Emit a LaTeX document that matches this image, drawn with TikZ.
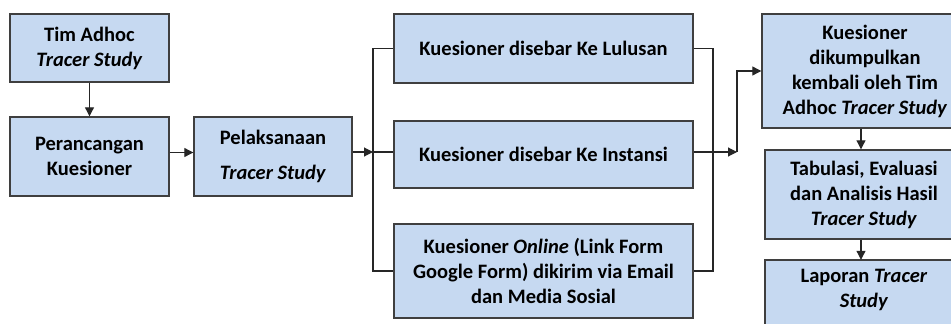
\documentclass[tikz,border=0pt]{standalone}
\usepackage{fontspec}
\setmainfont{Carlito}
\usetikzlibrary{arrows.meta}
\definecolor{boxfill}{HTML}{C6D9F1}
\definecolor{boxline}{HTML}{3F3F3F}
\definecolor{lncol}{HTML}{262626}
\begin{document}
\begin{tikzpicture}[x=1pt,y=-1pt,
  box/.style={draw=boxline, fill=boxfill, line width=1.4pt, inner sep=0pt, align=center,
    font=\fontsize{20.5}{25}\selectfont\bfseries},
  txt/.style={inner sep=0pt, align=center, font=\fontsize{20.5}{25}\selectfont\bfseries},
  ln/.style={line width=1.1pt, draw=lncol},
  arr/.style={ln, -{Triangle[length=9pt,width=9pt]}}]
\useasboundingbox (0,0) rectangle (951,324);
\clip (0,0) rectangle (951,324);
\fill[white] (0,0) rectangle (951,324);

\node[box, minimum width=159pt, minimum height=68pt] (b1) at (89.5,48) {Tim Adhoc\\\textit{Tracer Study}};
\node[box, minimum width=159pt, minimum height=79pt] (b2) at (89.5,156.5) {Perancangan\\Kuesioner};
\node[box, minimum width=158pt, minimum height=79pt] (b3) at (273,156.5) {Pelaksanaan\\[10pt]\textit{Tracer Study}};
\node[box, minimum width=299pt, minimum height=69pt] (b4) at (543.5,48.5) {Kuesioner disebar Ke Lulusan};
\node[box, minimum width=299pt, minimum height=67pt] (b5) at (543.5,154.5) {Kuesioner disebar Ke Instansi};
\node[box, minimum width=299pt, minimum height=94pt] (b6) at (543.5,271) {Kuesioner \textit{Online} (Link Form\\Google Form) dikirim via Email\\dan Media Sosial};
\node[box, minimum width=206pt, minimum height=114pt] (b7) at (865,71) {Kuesioner\\dikumpulkan\\kembali oleh Tim\\Adhoc \textit{Tracer Study}};
\node[box, minimum width=198pt, minimum height=89pt] (b8) at (864,194.5) {Tabulasi, Evaluasi\\dan Analisis Hasil\\\textit{Tracer Study}};
\draw[draw=boxline, fill=boxfill, line width=1.4pt] (765,260) rectangle (963,350);
\node[txt, minimum width=198pt, minimum height=60pt] (b9) at (864,290) {Laporan \textit{Tracer}\\\textit{Study}};

\coordinate (sx) at (373,152);
\coordinate (jx) at (713,152);
\coordinate (m) at (737,152);

\draw[arr] (b1) -- (b2);
\draw[arr] ([yshift=4pt]b2.east) -- ([yshift=4pt]b3.west);
\draw[arr] (b3.east |- sx) -- (sx);
\draw[ln] (b4.west) -- (b4.west -| sx) -- (b6.west -| sx) -- (b6.west);
\draw[ln] (sx) -- (b5.west |- sx);
\draw[ln] (b4.east) -- (b4.east -| jx) -- (b6.east -| jx) -- (b6.east);
\draw[arr] (b5.east |- m) -- (m);
\draw[arr] (m) |- (b7.west);
\draw[arr] (b7.south -| 861,0) -- (b8.north -| 861,0);
\draw[arr] (b8.south -| 861,0) -- (b9.north -| 861,0);
\end{tikzpicture}
\end{document}
